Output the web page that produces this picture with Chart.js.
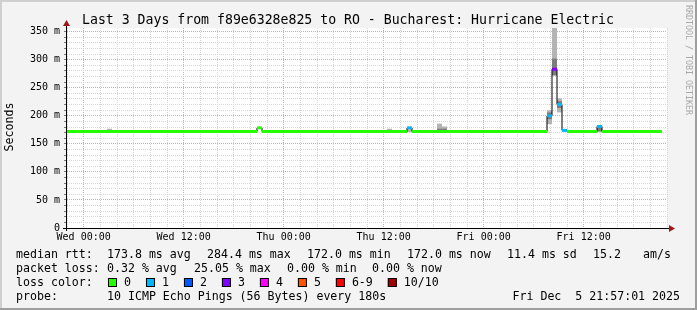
<!DOCTYPE html>
<html>
<head>
<meta charset="utf-8">
<script src="https://cdn.jsdelivr.net/npm/chart.js@4.4.1/dist/chart.umd.min.js"></script>
<style>
  body { margin: 0; background: #f3f3f3; }
  canvas { display: block; }
</style>
</head>
<body>
<canvas id="chart" width="697" height="310"></canvas>
<script>
'use strict';

// one value per 36 minute bin, window starts Tue 22:00 and lasts 72 h
const medianRtt = [
  172, 172, 172, 172, 172, 172, 172, 172, 172, 172,
  172, 172, 172, 172, 172, 172, 172, 172, 172, 172,
  172, 172, 172, 172, 172, 172, 172, 172, 172, 172,
  172, 172, 172, 172, 172, 172, 172, 172, 178.5, 172,
  172, 172, 172, 172, 172, 172, 172, 172, 172, 172,
  172, 172, 172, 172, 172, 172, 172, 172, 172, 172,
  172, 172, 172, 172, 172, 172, 172, 172, 178.5, 172,
  172, 172, 172, 172, 172, 172, 172, 172, 172, 172,
  172, 172, 172, 172, 172, 172, 172, 172, 172, 172,
  172, 172, 172, 172, 172, 172, 200, 283, 220, 174,
  172, 172, 172, 172, 172, 172, 181, 172, 172, 172,
  172, 172, 172, 172, 172, 172, 172, 172, 172
];

// lost pings (of 10) per bin
const lossCount = [
  0, 0, 0, 0, 0, 0, 0, 0, 0, 0,
  0, 0, 0, 0, 0, 0, 0, 0, 0, 0,
  0, 0, 0, 0, 0, 0, 0, 0, 0, 0,
  0, 0, 0, 0, 0, 0, 0, 0, 0, 0,
  0, 0, 0, 0, 0, 0, 0, 0, 0, 0,
  0, 0, 0, 0, 0, 0, 0, 0, 0, 0,
  0, 0, 0, 0, 0, 0, 0, 0, 1, 0,
  0, 0, 0, 0, 0, 0, 0, 0, 0, 0,
  0, 0, 0, 0, 0, 0, 0, 0, 0, 0,
  0, 0, 0, 0, 0, 0, 1, 3, 1, 1,
  0, 0, 0, 0, 0, 0, 1, 0, 0, 0,
  0, 0, 0, 0, 0, 0, 0, 0, 0
];

// smoke (spread of the single pings) where it shows
const smokeBins = [8, 64, 68, 74, 75, 96, 97, 98, 106];
const smokeLow  = [172, 172, 171, 176, 176, 185, 272, 206, 172];
const smokeHigh = [177, 177, 179, 186, 181, 210, 360, 231, 182];
const coreLow   = [null, null, null, 173, 173, 194, 272, 214, 172];
const coreHigh  = [null, null, null, 177, 177, 206, 302, 226, 181];

const xTickHours = [2, 14, 26, 38, 50, 62];
const xTickLabels = ['Wed 00:00', 'Wed 12:00', 'Thu 00:00', 'Thu 12:00', 'Fri 00:00', 'Fri 12:00'];
const yTickValues = [0, 50, 100, 150, 200, 250, 300, 350];
const yTickLabels = ['0', '50 m', '100 m', '150 m', '200 m', '250 m', '300 m', '350 m'];

const lossLabels = ['0', '1', '2', '3', '4', '5', '6-9', '10/10'];
const lossColors = ['#26ff00', '#00b8ff', '#0059ff', '#7e00ff', '#ff00ff', '#ff5500', '#ff0000', '#a10000'];

const binHours = 0.6;
const minorGrid = '#d6d6d6';
const majorGrid = '#eca0a0';
const mono = "'DejaVu Sans Mono'";

function lossBand(n) {
  if (n <= 5) return n;
  return n < 10 ? 6 : 7;
}

function binCenter(i) {
  return i * binHours + binHours / 2;
}

let medianPoints = medianRtt.map((v, i) => ({ x: binCenter(i), y: v }));
let smokePoints = smokeBins.map((b, i) => ({ x: binCenter(b), y: [smokeLow[i], smokeHigh[i]] }));
let corePoints = smokeBins
  .map((b, i) => ({ x: binCenter(b), y: [coreLow[i], coreHigh[i]] }))
  .filter(p => p.y[0] !== null);

let xGrid = [];
for (let h = 0; h <= 72; h += 2) xGrid.push(h);
let yGrid = [];
for (let v = 0; v <= 350; v += 10) yGrid.push(v);

const rrdFrame = {
  id: 'rrdFrame',
  beforeDraw(chart) {
    const ctx = chart.ctx;
    const a = chart.chartArea;
    ctx.save();
    ctx.fillStyle = '#f3f3f3';
    ctx.fillRect(0, 0, 697, 310);
    ctx.fillStyle = '#cfcfcf';
    ctx.fillRect(0, 0, 697, 2);
    ctx.fillRect(0, 0, 2, 310);
    ctx.fillStyle = '#9e9e9e';
    ctx.fillRect(0, 308, 697, 2);
    ctx.fillRect(695, 0, 2, 310);
    ctx.fillStyle = '#ffffff';
    ctx.fillRect(a.left, a.top, a.right - a.left, a.bottom - a.top);
    ctx.restore();
  },
  afterDraw(chart) {
    const ctx = chart.ctx;
    const a = chart.chartArea;
    const ys = chart.scales.y;
    ctx.save();

    // small ticks on the value axis
    ctx.fillStyle = '#7a7a7a';
    yGrid.forEach(v => {
      const py = Math.round(ys.getPixelForValue(v) - 0.5);
      ctx.fillRect(a.left - 3, py, 2, 1);
    });

    // axes with arrows
    ctx.strokeStyle = '#000000';
    ctx.lineWidth = 1;
    ctx.beginPath();
    ctx.moveTo(a.left - 4, a.bottom + 0.5);
    ctx.lineTo(a.right + 3, a.bottom + 0.5);
    ctx.moveTo(a.left - 0.5, a.bottom + 3);
    ctx.lineTo(a.left - 0.5, a.top - 2);
    ctx.stroke();
    ctx.fillStyle = '#a01818';
    ctx.beginPath();
    ctx.moveTo(a.right + 2, a.bottom - 3);
    ctx.lineTo(a.right + 8, a.bottom + 0.5);
    ctx.lineTo(a.right + 2, a.bottom + 4);
    ctx.fill();
    ctx.beginPath();
    ctx.moveTo(a.left - 4, a.top - 2);
    ctx.lineTo(a.left - 0.5, a.top - 8);
    ctx.lineTo(a.left + 3, a.top - 2);
    ctx.fill();

    // title and axis label
    ctx.fillStyle = '#000000';
    ctx.font = '13.2px ' + mono;
    ctx.textAlign = 'center';
    ctx.textBaseline = 'alphabetic';
    ctx.fillText('Last 3 Days from f89e6328e825 to RO - Bucharest: Hurricane Electric', 348, 24);

    ctx.save();
    ctx.translate(10, 127);
    ctx.rotate(-Math.PI / 2);
    ctx.font = '11.6px ' + mono;
    ctx.textBaseline = 'middle';
    ctx.fillText('Seconds', 0, 0);
    ctx.restore();

    ctx.save();
    ctx.translate(692, 5);
    ctx.rotate(Math.PI / 2);
    ctx.font = '8.3px ' + mono;
    ctx.fillStyle = '#a8a8a8';
    ctx.textAlign = 'left';
    ctx.textBaseline = 'top';
    ctx.fillText('RRDTOOL / TOBI OETIKER', 0, 0);
    ctx.restore();

    // legend block
    ctx.font = '11.6px ' + mono;
    ctx.textAlign = 'left';
    const put = (x, y, s) => ctx.fillText(s, x, y);
    put(16, 258, 'median rtt:');
    put(107, 258, '173.8 ms avg');
    put(207, 258, '284.4 ms max');
    put(307, 258, '172.0 ms min');
    put(407, 258, '172.0 ms now');
    put(507, 258, '11.4 ms sd');
    put(593, 258, '15.2');
    put(643, 258, 'am/s');

    put(16, 272, 'packet loss:');
    put(107, 272, '0.32 % avg');
    put(194, 272, '25.05 % max');
    put(287, 272, '0.00 % min');
    put(372, 272, '0.00 % now');

    put(16, 286, 'loss color:');
    let bx = 108;
    lossLabels.forEach((lab, i) => {
      ctx.fillStyle = lossColors[i];
      ctx.fillRect(bx, 278, 9, 9);
      ctx.strokeStyle = '#000000';
      ctx.strokeRect(bx + 0.5, 278.5, 8, 8);
      ctx.fillStyle = '#000000';
      put(bx + 16, 286, lab);
      bx = bx + 16 + ctx.measureText(lab).width + 15;
    });

    put(16, 300, 'probe:');
    put(107, 300, '10 ICMP Echo Pings (56 Bytes) every 180s');
    ctx.textAlign = 'right';
    put(680, 300, 'Fri Dec  5 21:57:01 2025');

    ctx.restore();
  }
};

new Chart(document.getElementById('chart'), {
  type: 'line',
  data: {
    datasets: [
      {
        type: 'bar',
        data: smokePoints,
        backgroundColor: '#b4b4b4',
        barThickness: 5,
        grouped: false,
        inflateAmount: 0,
        order: 4,
      },
      {
        type: 'bar',
        data: corePoints,
        backgroundColor: '#7c7c7c',
        barThickness: 5,
        grouped: false,
        inflateAmount: 0,
        order: 3,
      },
      {
        type: 'line',
        data: medianPoints,
        borderColor: '#000000',
        borderWidth: 1,
        stepped: 'middle',
        pointRadius: 0,
        order: 2,
      },
      {
        type: 'line',
        data: medianPoints,
        showLine: false,
        pointStyle: 'line',
        pointRadius: 2.5,
        pointHoverRadius: 2.5,
        pointBorderWidth: 3,
        pointBorderColor: c => lossColors[lossBand(lossCount[c.dataIndex] || 0)],
        order: 1,
      },
    ],
  },
  options: {
    responsive: false,
    animation: false,
    devicePixelRatio: 1,
    events: [],
    layout: { padding: { top: 28, right: 30, left: 0, bottom: 0 } },
    plugins: { legend: { display: false }, tooltip: { enabled: false } },
    scales: {
      x: {
        type: 'linear',
        min: 0,
        max: 72,
        offset: false,
        afterBuildTicks: s => { s.ticks = xGrid.map(h => ({ value: h })); },
        afterFit: s => { s.height = 82; },
        grid: {
          offset: false,
          drawTicks: false,
          color: c => (c.tick && xTickHours.includes(c.tick.value)) ? majorGrid : minorGrid,
        },
        border: { display: false, dash: [1, 1] },
        ticks: {
          autoSkip: false,
          maxRotation: 0,
          padding: 3,
          color: '#000000',
          font: { family: 'DejaVu Sans Mono', size: 10, lineHeight: 1.2 },
          callback: v => {
            const k = xTickHours.indexOf(v);
            return k >= 0 ? xTickLabels[k] : '';
          },
        },
      },
      y: {
        type: 'linear',
        min: 0,
        max: 356.5,
        afterBuildTicks: s => { s.ticks = yGrid.map(v => ({ value: v })); },
        afterFit: s => { s.width = 67; },
        grid: {
          drawTicks: false,
          color: c => (c.tick && yTickValues.includes(c.tick.value)) ? majorGrid : minorGrid,
        },
        border: { display: false, dash: [1, 1] },
        ticks: {
          autoSkip: false,
          padding: 7,
          color: '#000000',
          font: { family: 'DejaVu Sans Mono', size: 10 },
          callback: v => {
            const k = yTickValues.indexOf(v);
            return k >= 0 ? yTickLabels[k] : '';
          },
        },
      },
    },
  },
  plugins: [rrdFrame],
});
</script>
</body>
</html>
